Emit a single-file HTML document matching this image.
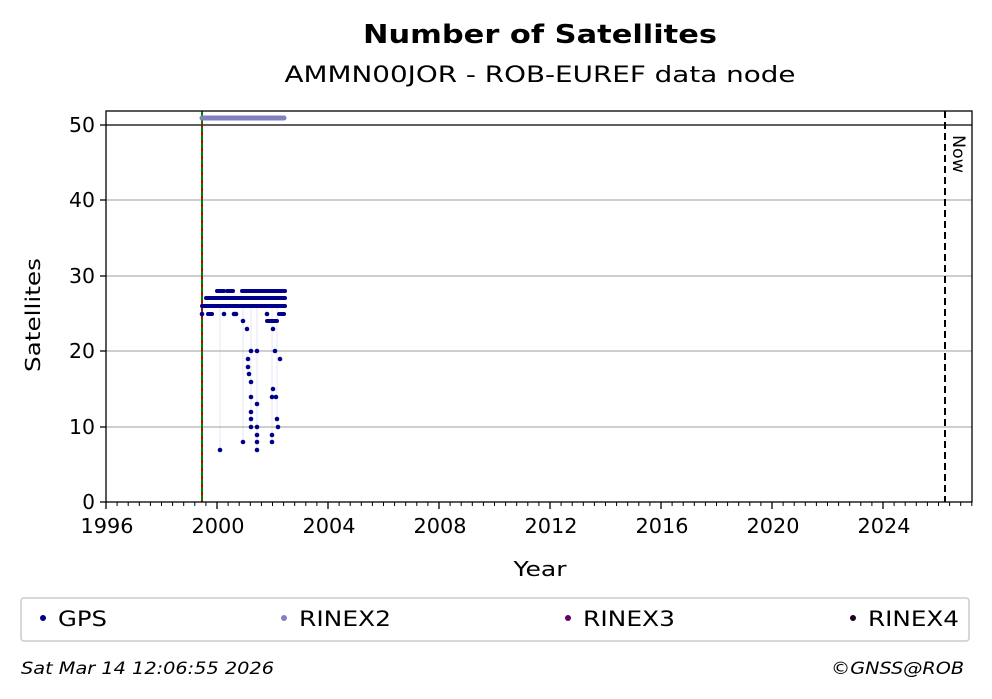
<!DOCTYPE html>
<html><head><meta charset="utf-8"><style>
body{margin:0;background:#fff;}
svg{display:block;font-family:"DejaVu Sans","Liberation Sans",sans-serif;}
</style></head><body>
<svg width="992" height="699" viewBox="0 0 992 699" xmlns="http://www.w3.org/2000/svg">
<text x="540" y="43" text-anchor="middle" font-size="26" font-weight="bold" textLength="354" lengthAdjust="spacingAndGlyphs">Number of Satellites</text>
<text x="540" y="82" text-anchor="middle" font-size="22" textLength="511" lengthAdjust="spacingAndGlyphs">AMMN00JOR - ROB-EUREF data node</text>
<g stroke="#b0b0b0" stroke-width="1.3">
<line x1="106" y1="427" x2="972" y2="427"/><line x1="106" y1="351" x2="972" y2="351"/>
<line x1="106" y1="276" x2="972" y2="276"/><line x1="106" y1="200" x2="972" y2="200"/>
</g>
<line x1="106" y1="125" x2="972" y2="125" stroke="#000" stroke-width="1.3"/>
<line x1="202" y1="111" x2="202" y2="502" stroke="#c00000" stroke-width="2"/>
<line x1="202" y1="111" x2="202" y2="502" stroke="#008000" stroke-width="2" stroke-dasharray="5,3"/>
<line x1="945" y1="111" x2="945" y2="502" stroke="#000" stroke-width="2" stroke-dasharray="7,4"/>
<text transform="translate(953,135) rotate(90)" font-size="17" textLength="38" lengthAdjust="spacingAndGlyphs">Now</text>
<line x1="202" y1="118" x2="284" y2="118" stroke="#8080c0" stroke-width="5" stroke-linecap="round"/>
<g stroke="#9999dd" stroke-width="0.5" opacity="0.5">
<line x1="220" y1="306" x2="220" y2="450"/><line x1="243" y1="306" x2="243" y2="442"/>
<line x1="251" y1="306" x2="251" y2="427"/><line x1="257" y1="306" x2="257" y2="450"/>
<line x1="272" y1="306" x2="272" y2="442"/><line x1="277" y1="306" x2="277" y2="427"/>
</g>
<g stroke="#00008b" stroke-width="4" stroke-linecap="round">
<line x1="217" y1="291" x2="224" y2="291"/><line x1="227" y1="291" x2="233" y2="291"/>
<line x1="242" y1="291" x2="285" y2="291"/>
<line x1="206" y1="298" x2="285" y2="298"/>
<line x1="202" y1="306" x2="285" y2="306"/>
<line x1="208" y1="314" x2="212" y2="314"/><line x1="279" y1="314" x2="284" y2="314"/>
<line x1="267" y1="321" x2="277" y2="321"/>
</g>
<g fill="#00008b">
<circle cx="202" cy="314" r="2.3"/><circle cx="224" cy="314" r="2.3"/><circle cx="234" cy="314" r="2.3"/><circle cx="236" cy="314" r="2.3"/><circle cx="267" cy="314" r="2.3"/>
<circle cx="243" cy="321" r="2.3"/><circle cx="247" cy="329" r="2.3"/><circle cx="273" cy="329" r="2.3"/>
<circle cx="251" cy="351" r="2.3"/><circle cx="257" cy="351" r="2.3"/><circle cx="275" cy="351" r="2.3"/>
<circle cx="248" cy="359" r="2.3"/><circle cx="280" cy="359" r="2.3"/><circle cx="248" cy="367" r="2.3"/>
<circle cx="249" cy="374" r="2.3"/><circle cx="251" cy="382" r="2.3"/><circle cx="273" cy="389" r="2.3"/>
<circle cx="251" cy="397" r="2.3"/><circle cx="272" cy="397" r="2.3"/><circle cx="276" cy="397" r="2.3"/>
<circle cx="257" cy="404" r="2.3"/><circle cx="251" cy="412" r="2.3"/><circle cx="251" cy="419" r="2.3"/>
<circle cx="277" cy="419" r="2.3"/><circle cx="251" cy="427" r="2.3"/><circle cx="257" cy="427" r="2.3"/>
<circle cx="278" cy="427" r="2.3"/><circle cx="257" cy="435" r="2.3"/><circle cx="272" cy="435" r="2.3"/>
<circle cx="243" cy="442" r="2.3"/><circle cx="257" cy="442" r="2.3"/><circle cx="272" cy="442" r="2.3"/>
<circle cx="257" cy="450" r="2.3"/><circle cx="220" cy="450" r="2.3"/>
</g>
<rect x="106" y="111" width="866" height="391" fill="none" stroke="#000" stroke-width="1.3"/>
<g stroke="#000" stroke-width="1.3">
<line x1="100" y1="502" x2="106" y2="502"/><line x1="100" y1="427" x2="106" y2="427"/>
<line x1="100" y1="351" x2="106" y2="351"/><line x1="100" y1="276" x2="106" y2="276"/>
<line x1="100" y1="200" x2="106" y2="200"/><line x1="100" y1="125" x2="106" y2="125"/>
</g>
<g font-size="20" text-anchor="end">
<text x="95" y="509">0</text><text x="95" y="434" textLength="26" lengthAdjust="spacingAndGlyphs">10</text><text x="95" y="358" textLength="26" lengthAdjust="spacingAndGlyphs">20</text>
<text x="95" y="283" textLength="26" lengthAdjust="spacingAndGlyphs">30</text><text x="95" y="207" textLength="26" lengthAdjust="spacingAndGlyphs">40</text><text x="95" y="132" textLength="26" lengthAdjust="spacingAndGlyphs">50</text>
</g>
<text transform="translate(40,315) rotate(-90)" text-anchor="middle" font-size="20.5" textLength="114" lengthAdjust="spacingAndGlyphs">Satellites</text>
<g stroke="#000" stroke-width="1.3">
<line x1="106" y1="502" x2="106" y2="509"/><line x1="217" y1="502" x2="217" y2="509"/>
<line x1="328" y1="502" x2="328" y2="509"/><line x1="439" y1="502" x2="439" y2="509"/>
<line x1="550" y1="502" x2="550" y2="509"/><line x1="661" y1="502" x2="661" y2="509"/>
<line x1="772" y1="502" x2="772" y2="509"/><line x1="883" y1="502" x2="883" y2="509"/>
</g>
<path stroke="#000" stroke-width="1" d="M117.1 502v4M128.2 502v4M139.3 502v4M150.4 502v4M161.5 502v4M172.6 502v4M183.7 502v4M194.8 502v4M205.9 502v4M228.1 502v4M239.2 502v4M250.3 502v4M261.4 502v4M272.5 502v4M283.6 502v4M294.7 502v4M305.8 502v4M316.9 502v4M339.1 502v4M350.2 502v4M361.3 502v4M372.4 502v4M383.5 502v4M394.6 502v4M405.7 502v4M416.8 502v4M427.9 502v4M450.1 502v4M461.2 502v4M472.3 502v4M483.4 502v4M494.5 502v4M505.6 502v4M516.7 502v4M527.8 502v4M538.9 502v4M561.1 502v4M572.2 502v4M583.3 502v4M594.4 502v4M605.5 502v4M616.6 502v4M627.7 502v4M638.8 502v4M649.9 502v4M672.1 502v4M683.2 502v4M694.3 502v4M705.4 502v4M716.5 502v4M727.6 502v4M738.7 502v4M749.8 502v4M760.9 502v4M783.1 502v4M794.2 502v4M805.3 502v4M816.4 502v4M827.5 502v4M838.6 502v4M849.7 502v4M860.8 502v4M871.9 502v4M894.1 502v4M905.2 502v4M916.3 502v4M927.4 502v4M938.5 502v4M949.6 502v4M960.7 502v4M971.8 502v4"/>
<g font-size="20.5" text-anchor="middle">
<text x="107" y="533" textLength="53" lengthAdjust="spacingAndGlyphs">1996</text><text x="218" y="533" textLength="53" lengthAdjust="spacingAndGlyphs">2000</text><text x="329" y="533" textLength="53" lengthAdjust="spacingAndGlyphs">2004</text>
<text x="440" y="533" textLength="53" lengthAdjust="spacingAndGlyphs">2008</text><text x="551" y="533" textLength="53" lengthAdjust="spacingAndGlyphs">2012</text><text x="662" y="533" textLength="53" lengthAdjust="spacingAndGlyphs">2016</text>
<text x="773" y="533" textLength="53" lengthAdjust="spacingAndGlyphs">2020</text><text x="884" y="533" textLength="53" lengthAdjust="spacingAndGlyphs">2024</text>
</g>
<text x="540" y="576" text-anchor="middle" font-size="20.5" textLength="53" lengthAdjust="spacingAndGlyphs">Year</text>
<rect x="21" y="598" width="948" height="43" rx="3" fill="#fff" stroke="#ccc" stroke-width="1.5"/>
<circle cx="43" cy="618" r="3" fill="#00008b"/><text x="58" y="626" font-size="21" textLength="49" lengthAdjust="spacingAndGlyphs">GPS</text>
<circle cx="284" cy="618" r="3" fill="#8080c0"/><text x="299" y="626" font-size="21" textLength="92" lengthAdjust="spacingAndGlyphs">RINEX2</text>
<circle cx="568" cy="618" r="3" fill="#660066"/><text x="583" y="626" font-size="21" textLength="92" lengthAdjust="spacingAndGlyphs">RINEX3</text>
<circle cx="853" cy="618" r="3" fill="#220022"/><text x="868" y="626" font-size="21" textLength="91" lengthAdjust="spacingAndGlyphs">RINEX4</text>
<text x="21" y="674" font-size="16.5" font-style="italic" textLength="253" lengthAdjust="spacingAndGlyphs">Sat Mar 14 12:06:55 2026</text>
<text x="831" y="674" font-size="16.5" font-style="italic" textLength="133" lengthAdjust="spacingAndGlyphs">©GNSS@ROB</text>
</svg>
</body></html>
